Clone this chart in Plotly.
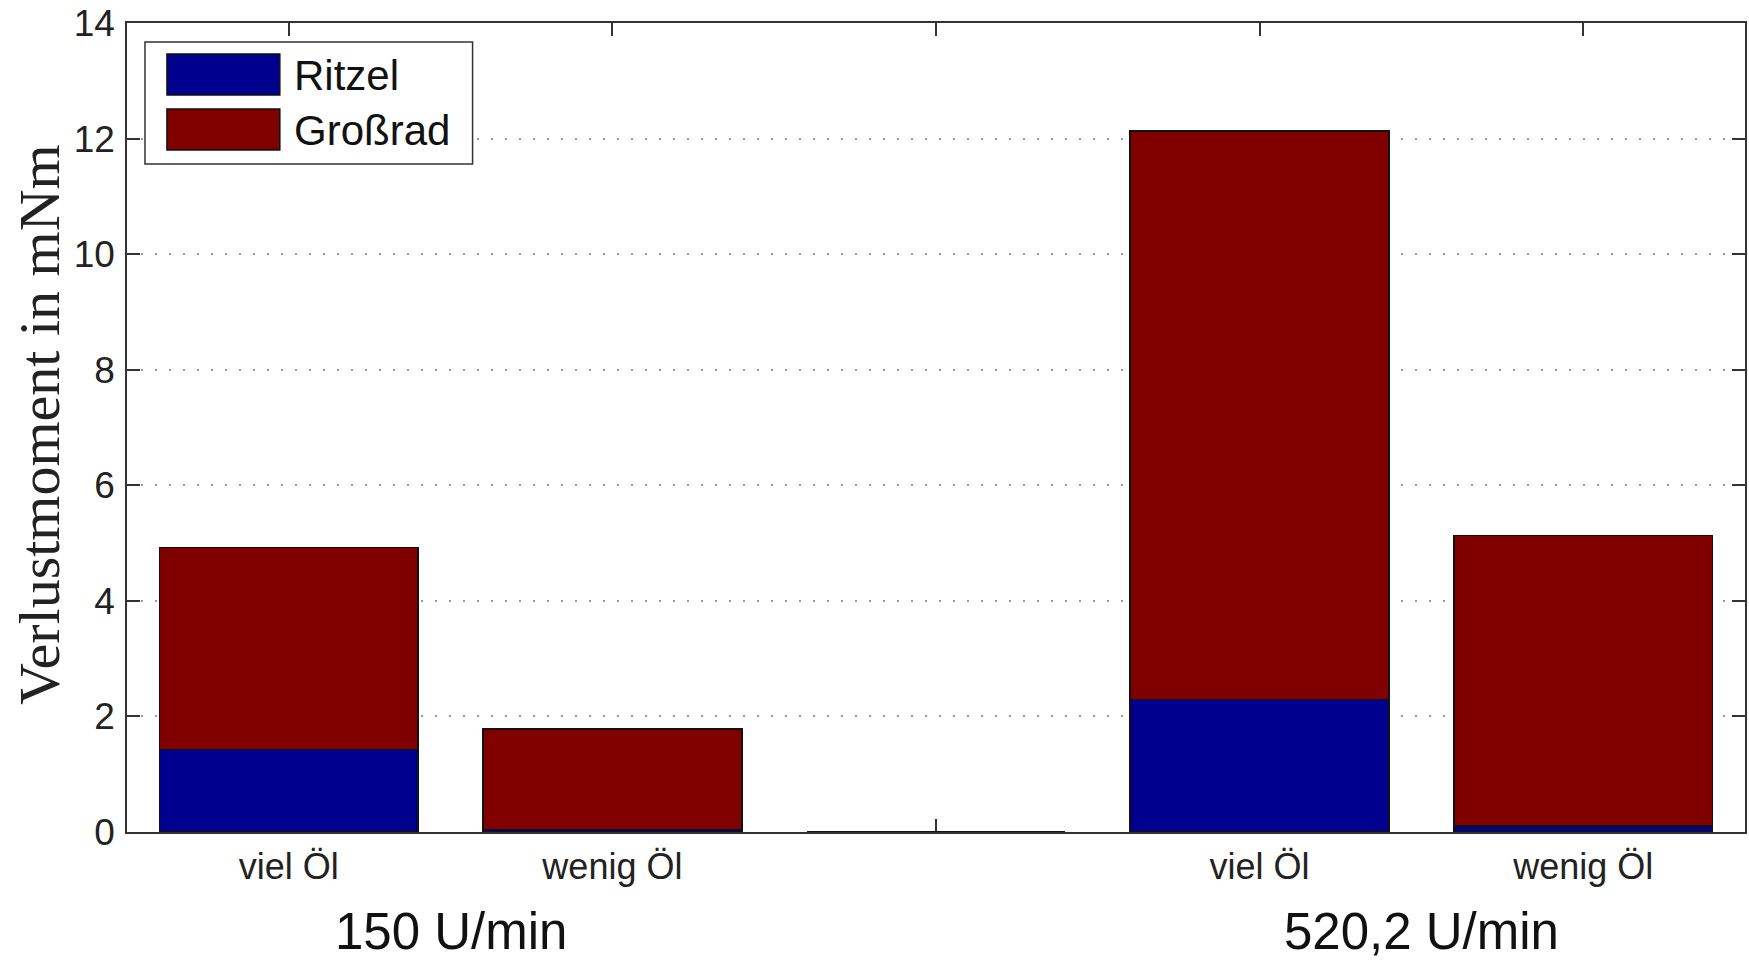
import plotly.graph_objects as go

# ---- data ----
positions = [1, 2, 3, 4, 5]
tick_labels = ["viel Öl", "wenig Öl", "", "viel Öl", "wenig Öl"]
ritzel = [1.43, 0.04, 0.0, 2.29, 0.10]
grossrad = [3.49, 1.74, 0.0, 9.84, 5.03]
group_labels = ["150 U/min", "520,2 U/min"]
group_positions = [1.5, 4.5]
series_names = ["Ritzel", "Großrad"]
colors = ["#00008F", "#800000"]
y_ticks = [0, 2, 4, 6, 8, 10, 12, 14]

W, H = 1749, 960
L, R, T, B = 127, 1747, 23, 832  # plot area in pixels


def px(x):
    return (x - L) / (R - L)


def py(y):
    return (B - y) / (B - T)


fig = go.Figure()
for name, vals, col in zip(series_names, [ritzel, grossrad], colors):
    fig.add_trace(go.Bar(
        x=positions, y=vals, name=name, width=0.8,
        marker=dict(color=col, line=dict(color="#111111", width=1.5)),
        showlegend=False,
    ))

fig.update_layout(
    width=W, height=H,
    margin=dict(l=L, r=W - R, t=T, b=H - B),
    barmode="stack",
    plot_bgcolor="white", paper_bgcolor="white",
    font=dict(family="Liberation Sans, Arial, sans-serif", size=36, color="#222222"),
)
fig.update_xaxes(
    range=[0.5, 5.5], tickvals=positions, ticktext=tick_labels,
    showline=True, linecolor="#333333", linewidth=1.5, mirror="ticks",
    ticks="inside", ticklen=13, tickwidth=1.5, tickcolor="#333333",
    showgrid=False, zeroline=False, layer="below traces",
    ticklabelstandoff=2, tickfont=dict(size=36),
)
fig.update_yaxes(
    range=[0, 14], tickvals=y_ticks,
    showline=True, linecolor="#333333", linewidth=1.5, mirror="ticks",
    ticks="inside", ticklen=13, tickwidth=1.5, tickcolor="#333333",
    showgrid=True, gridcolor="#999999", gridwidth=1.5, griddash="2px,12px",
    zeroline=False, ticklabelstandoff=3, tickfont=dict(size=37),
)

# y-axis title (serif, rotated)
fig.add_annotation(
    text="Verlustmoment in mNm", xref="paper", yref="paper",
    x=0, y=py(425), xshift=-(L - 39), xanchor="center", yanchor="middle",
    textangle=-90, showarrow=False,
    font=dict(family="Liberation Serif, Times New Roman, serif", size=58, color="#222222"),
)

# group labels
for lab, pos in zip(group_labels, group_positions):
    fig.add_annotation(
        text=lab, xref="x", yref="paper", x=pos, y=py(931),
        xanchor="center", yanchor="middle", showarrow=False,
        font=dict(size=51, color="#111111"),
    )

# custom legend
fig.add_shape(type="rect", xref="paper", yref="paper",
              x0=px(145), x1=px(473), y0=py(164), y1=py(42),
              fillcolor="white", line=dict(color="#333333", width=1.5), layer="above")
sw_tops = [54, 109]
for name, col, top in zip(series_names, colors, sw_tops):
    fig.add_shape(type="rect", xref="paper", yref="paper",
                  x0=px(167), x1=px(280), y0=py(top + 41), y1=py(top),
                  fillcolor=col, line=dict(color="#111111", width=1.5), layer="above")
    fig.add_annotation(text=name, xref="paper", yref="paper",
                       x=px(292), y=py(top + 21), xanchor="left", yanchor="middle",
                       showarrow=False, font=dict(size=42, color="#111111"))

fig.write_html("out.html", config={"displayModeBar": False},
               post_script="document.body.style.margin='0';")
